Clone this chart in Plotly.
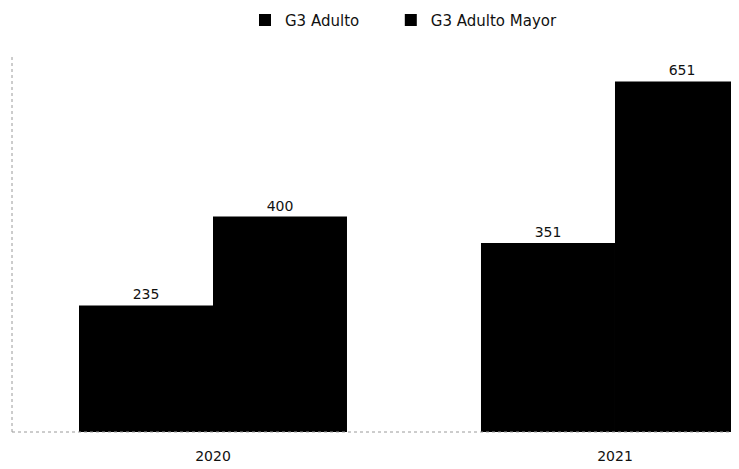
import plotly.graph_objects as go

years = ["2020", "2021"]
adulto = [235, 351]
adulto_mayor = [400, 651]
series_names = ["G3 Adulto", "G3 Adulto Mayor"]

font_family = "DejaVu Sans, Open Sans, sans-serif"

fig = go.Figure()
for name, vals, lg in zip(series_names, [adulto, adulto_mayor], ["legend", "legend2"]):
    fig.add_trace(go.Bar(
        x=years, y=vals, name=name, legend=lg,
        marker=dict(color="#000000", line=dict(width=0)),
        text=[str(v) for v in vals], textposition="outside",
        textfont=dict(family=font_family, size=14, color="#111111"),
        cliponaxis=False,
    ))

legend_common = dict(orientation="h", xanchor="left",
                     yref="container", y=0.974, yanchor="middle",
                     font=dict(family=font_family, size=15, color="#111111"),
                     itemwidth=30, bgcolor="rgba(0,0,0,0)")

fig.update_layout(
    width=739, height=469,
    margin=dict(l=4, r=8, t=47, b=45, autoexpand=False),
    paper_bgcolor="white", plot_bgcolor="white",
    barmode="group", bargap=1/3, bargroupgap=0,
    showlegend=True,
    legend=dict(xref="container", x=0.3207, **legend_common),
    legend2=dict(xref="container", x=0.518, **legend_common),
    xaxis=dict(range=[-0.5, 1.3085], showgrid=False, showline=False, zeroline=False,
               ticks="", ticklabelstandoff=14, automargin=False,
               tickfont=dict(family=font_family, size=14, color="#111111")),
    yaxis=dict(range=[0, 700], showgrid=False, showline=False, zeroline=False,
               showticklabels=False, ticks="", automargin=False),
    shapes=[
        dict(type="line", xref="paper", yref="paper", x0=0, x1=0, y0=0, y1=1,
             line=dict(color="#9a9a9a", width=1, dash="dot")),
        dict(type="line", xref="paper", yref="paper", x0=0, x1=1, y0=0, y1=0,
             line=dict(color="#9a9a9a", width=1, dash="dot")),
    ],
)

fig.write_html("out.html")
